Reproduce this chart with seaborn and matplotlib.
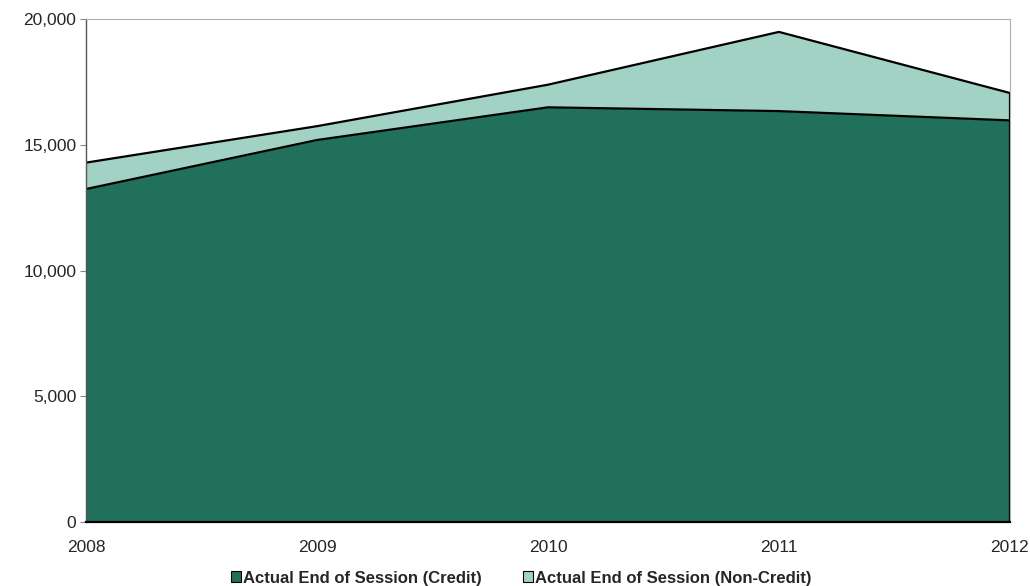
"""
Enrollment by session type, stacked area chart.
"""

import matplotlib

matplotlib.use("Agg")
import matplotlib.pyplot as plt
import numpy as np
import pandas as pd
import seaborn as sns
from matplotlib.patches import Patch
from matplotlib.ticker import FuncFormatter

years = [2008, 2009, 2010, 2011, 2012]
credit = [13250, 15200, 16500, 16350, 15980]
non_credit = [1050, 550, 900, 3150, 1090]
series_names = ["Actual End of Session (Credit)", "Actual End of Session (Non-Credit)"]

DARK = "#20705b"
LIGHT = "#a2d2c3"

df = pd.DataFrame({"year": years, "credit": credit, "non_credit": non_credit})
df["total"] = df["credit"] + df["non_credit"]

sns.set_style("white")
plt.rcParams["font.family"] = ["Liberation Sans", "DejaVu Sans"]

fig = plt.figure(figsize=(10.3, 5.86), dpi=100)
ax = fig.add_axes([0.0835, 0.109, 0.897, 0.858])

ax.fill_between(df["year"], 0, df["credit"], color=DARK, linewidth=0)
ax.fill_between(df["year"], df["credit"], df["total"], color=LIGHT, linewidth=0)
sns.lineplot(data=df, x="year", y="credit", color="black", linewidth=1.6, ax=ax)
sns.lineplot(data=df, x="year", y="total", color="black", linewidth=1.6, ax=ax)
ax.vlines(years[-1], 0, df["total"].iloc[-1], color="black", linewidth=1.6)

ax.set_xlim(years[0], years[-1])
ax.set_ylim(0, 20000)
ax.set_yticks([0, 5000, 10000, 15000, 20000])
ax.yaxis.set_major_formatter(FuncFormatter(lambda v, _: f"{int(v):,}"))
ax.set_xticks(years)
ax.set_xlabel("")
ax.set_ylabel("")

for side in ["top", "right"]:
    ax.spines[side].set_color("#b0b0b0")
    ax.spines[side].set_linewidth(0.8)
ax.spines["left"].set_color("#555555")
ax.spines["left"].set_linewidth(1.0)
ax.spines["bottom"].set_color("black")
ax.spines["bottom"].set_linewidth(1.6)

ax.tick_params(axis="y", length=4, width=0.8, color="#888888", labelsize=12.5, pad=3, left=True)
ax.tick_params(axis="x", length=0, labelsize=12.5, pad=13)

handles = [
    Patch(facecolor=DARK, edgecolor="black", linewidth=0.8),
    Patch(facecolor=LIGHT, edgecolor="black", linewidth=0.8),
]
fig.legend(
    handles,
    series_names,
    loc="lower center",
    bbox_to_anchor=(0.506, -0.025),
    ncol=2,
    frameon=False,
    prop={"weight": "bold", "size": 12},
    handlelength=0.6,
    handleheight=0.6,
    handletextpad=0.1,
    columnspacing=2.5,
)

fig.savefig("out.png", dpi=100)
plt.close(fig)
